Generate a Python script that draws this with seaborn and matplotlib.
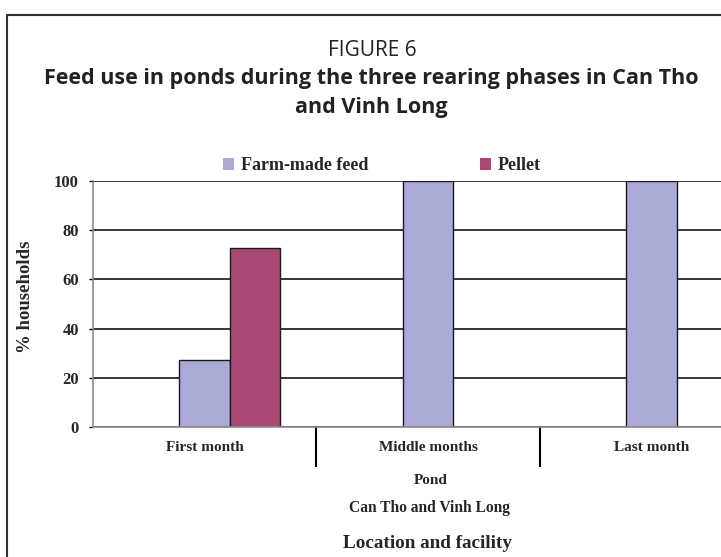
import matplotlib
matplotlib.use("Agg")
import matplotlib.pyplot as plt
from matplotlib.patches import Patch
from matplotlib.lines import Line2D
from matplotlib.font_manager import FontProperties
import numpy as np
import pandas as pd
import seaborn as sns

# ---- data -------------------------------------------------------------
phases = ["First month", "Middle months", "Last month"]
feed_types = ["Farm-made feed", "Pellet"]
farm_made = [27.3, 100, 100]
pellet = [72.7, 0, 0]
feed_colors = ["#AAAAD6", "#AA4876"]
y_ticks = [0, 20, 40, 60, 80, 100]

rows = []
for feed, values in zip(feed_types, [farm_made, pellet]):
    for phase, value in zip(phases, values):
        if value > 0:
            rows.append({"phase": phase, "feed": feed, "pct": value})
df = pd.DataFrame(rows)

# ---- style ------------------------------------------------------------
sns.set_theme(style="white")
SERIF = ["Liberation Serif", "DejaVu Serif"]
SANS = ["Open Sans", "DejaVu Sans"]
W, H = 721, 557


def fx(px):
    return px / W


def fy(py):
    return 1 - py / H


fig = plt.figure(figsize=(W / 100, H / 100), dpi=100)
fig.patch.set_facecolor("white")

ax_left, ax_top, ax_bottom = 92.7, 180.7, 427.3
ax = fig.add_axes([fx(ax_left), fy(ax_bottom), 1 - fx(ax_left), (ax_bottom - ax_top) / H])

bar_w = 0.2255
sns.barplot(
    data=df, x="phase", y="pct", hue="feed",
    order=phases, hue_order=feed_types, palette=feed_colors,
    width=2 * bar_w, dodge=True, edgecolor="#1a1a1a", linewidth=1.0,
    saturation=1, legend=False, ax=ax,
)

# the farm-made bar sits in the middle of each phase block
centers = np.arange(len(phases)) - bar_w / 2
ax.set_xlim(centers[0] - 0.5, centers[0] - 0.5 + (W - ax_left) / 223.5)
ax.set_ylim(0, 100)

ax.set_xticks(centers)
ax.set_xticklabels(phases, fontfamily=SERIF, fontweight="bold", fontsize=11)
ax.set_xticks(centers[:-1] + 0.5, minor=True)
ax.tick_params(axis="x", which="major", length=0, pad=10, bottom=True)
ax.tick_params(axis="x", which="minor", length=28.5, width=1.5,
               color="black", direction="out", bottom=True)

ax.set_yticks(y_ticks)
ax.set_yticklabels([str(t) for t in y_ticks], fontfamily=SERIF,
                   fontweight="bold", fontsize=12)
ax.tick_params(axis="y", length=3, width=1, color="black",
               direction="out", pad=7, left=True)

ax.set_xlabel("")
ax.set_ylabel("")
ax.yaxis.grid(True, color="black", linewidth=1.1)
ax.xaxis.grid(False)
ax.set_axisbelow(True)
for side in ("top", "right"):
    ax.spines[side].set_visible(False)
for side in ("left", "bottom"):
    ax.spines[side].set_color("#8a8a8a")
    ax.spines[side].set_linewidth(1.2)

# ---- legend -----------------------------------------------------------
handles = [Patch(facecolor=c, edgecolor="none") for c in feed_colors]
fig.legend(
    handles, feed_types, loc="center left",
    bbox_to_anchor=(fx(222.7), fy(166)), ncol=2, frameon=False,
    prop=FontProperties(family=SERIF, weight="bold", size=13),
    handlelength=0.6, handleheight=0.6, handletextpad=0.4,
    columnspacing=6.2, borderpad=0, borderaxespad=0,
)

# ---- titles and axis captions ----------------------------------------
fig.text(fx(372.5), fy(56), "FIGURE 6", ha="center", va="baseline",
         fontfamily=SANS, fontsize=15, color="#222222")
fig.text(fx(371.7), fy(84),
         "Feed use in ponds during the three rearing phases in Can Tho",
         ha="center", va="baseline", fontfamily=SANS, fontweight="bold",
         fontsize=15.5, color="#222222")
fig.text(fx(371.7), fy(113), "and Vinh Long", ha="center", va="baseline",
         fontfamily=SANS, fontweight="bold", fontsize=15.5, color="#222222")

fig.text(fx(25.8), fy(296.7), "% households", rotation=90, ha="center",
         va="center", fontfamily=SERIF, fontweight="bold", fontsize=13.5)
fig.text(fx(430.5), fy(480), "Pond", ha="center", va="center",
         fontfamily=SERIF, fontweight="bold", fontsize=11)
fig.text(fx(429.5), fy(508), "Can Tho and Vinh Long", ha="center",
         va="center", fontfamily=SERIF, fontweight="bold", fontsize=11.2)
fig.text(fx(428), fy(544), "Location and facility", ha="center",
         va="center", fontfamily=SERIF, fontweight="bold", fontsize=13.8)

# ---- outer frame (open to the right and bottom) -----------------------
frame_kw = dict(transform=fig.transFigure, color="#333333", linewidth=1.5)
fig.add_artist(Line2D([fx(7), fx(7)], [fy(14.5), 0], **frame_kw))
fig.add_artist(Line2D([fx(7), 1], [fy(14.5), fy(14.5)], **frame_kw))

fig.savefig("out.png", dpi=100, facecolor="white")
